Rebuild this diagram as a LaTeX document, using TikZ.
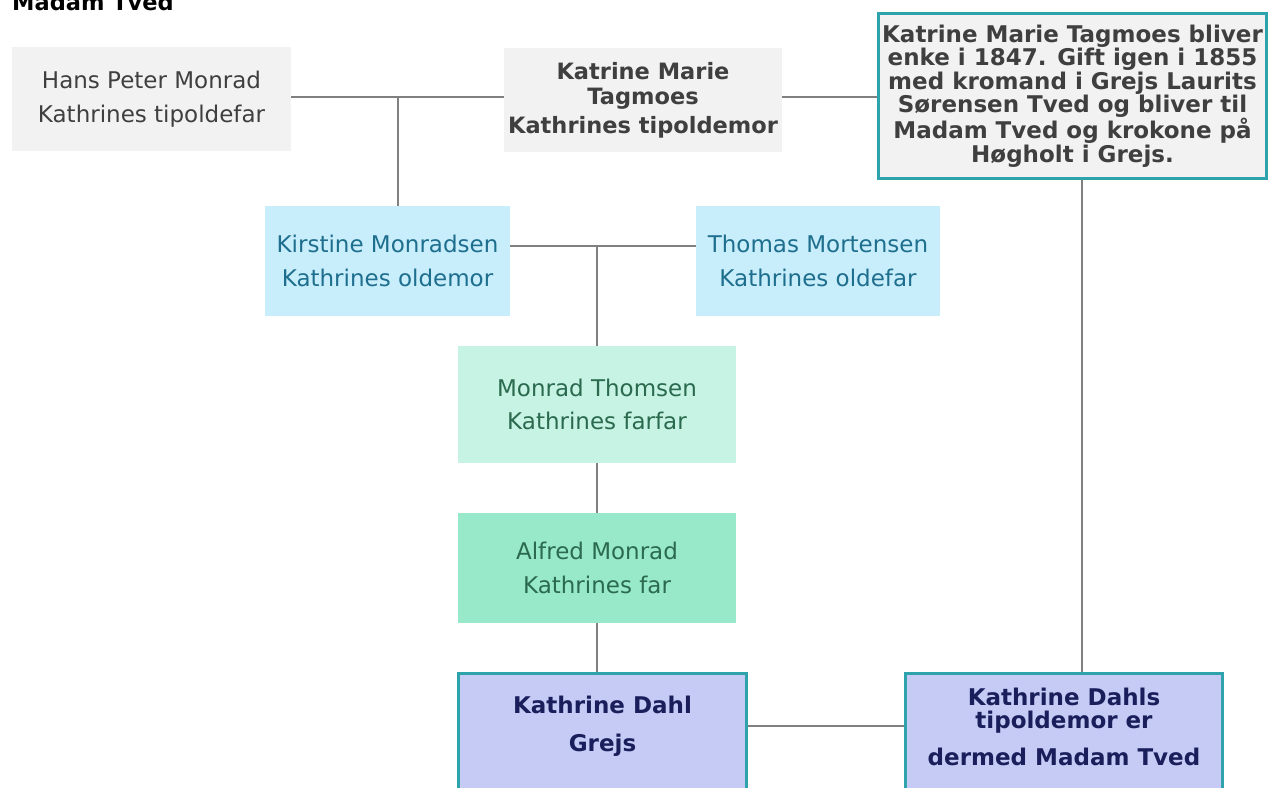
\documentclass[tikz,border=0pt]{standalone}
\usepackage{fontspec}
\setmainfont{DejaVu Sans}
\definecolor{grayfill}{HTML}{F2F2F2}
\definecolor{graytext}{HTML}{3F3F3F}
\definecolor{bluefill}{HTML}{C8EEFB}
\definecolor{bluetext}{HTML}{1E6E8E}
\definecolor{mintfill}{HTML}{C6F3E3}
\definecolor{greenfill}{HTML}{98E9C9}
\definecolor{greentext}{HTML}{2B6A4E}
\definecolor{lavfill}{HTML}{C5CBF5}
\definecolor{navytext}{HTML}{1A1F5C}
\definecolor{tealborder}{HTML}{2FA3AC}
\definecolor{linecol}{HTML}{808080}
\tikzset{
  pbox/.style={rectangle, inner sep=0pt, align=center, font=\fontsize{23}{33.5}\selectfont},
  graybox/.style={pbox, fill=grayfill, text=graytext},
  bluebox/.style={pbox, fill=bluefill, text=bluetext, minimum width=245pt, minimum height=110pt},
  mintbox/.style={pbox, fill=mintfill, text=greentext, minimum width=278pt},
  greenbox/.style={pbox, fill=greenfill, text=greentext, minimum width=278pt, minimum height=110pt},
  framebox/.style={rectangle, draw=tealborder, line width=3pt, inner sep=0pt},
  conn/.style={draw=linecol, line width=1.5pt},
}
\begin{document}
\begin{tikzpicture}[x=1pt,y=-1pt]
\useasboundingbox (0,0) rectangle (1271,787);
\clip (0,0) rectangle (1271,787);
\fill[white] (0,0) rectangle (1271,787);

\node[anchor=base west, font=\bfseries\fontsize{22.5}{24}\selectfont, text=black, inner sep=0pt] (title) at (12,10) {Madam Tved};

\node[graybox, minimum width=279pt, minimum height=104pt] (hans) at (151.5,99) {Hans Peter Monrad\\Kathrines tipoldefar};
\node[graybox, minimum width=278pt, minimum height=104pt, font=\bfseries\fontsize{22.5}{25}\selectfont] (kmt) at (643,100) {Katrine Marie\\Tagmoes\\[4pt]Kathrines tipoldemor};
\node[framebox, fill=grayfill, text=graytext, minimum width=388pt, minimum height=165pt, align=center, font=\bfseries\fontsize{23}{23.5}\selectfont] (rb) at (1072.5,96) {Katrine Marie Tagmoes bliver\\enke i 1847. Gift igen i 1855\\med kromand i Grejs Laurits\\Sørensen Tved og bliver til\\Madam Tved og krokone på\\Høgholt i Grejs.};

\node[bluebox] (kirst) at (387.5,261) {Kirstine Monradsen\\Kathrines oldemor};
\node[bluebox, minimum width=244pt] (thom) at (818,261) {Thomas Mortensen\\Kathrines oldefar};

\node[mintbox, minimum height=117pt] (mt) at (597,404.5) {Monrad Thomsen\\Kathrines farfar};
\node[greenbox] (am) at (597,568) {Alfred Monrad\\Kathrines far};

\node[framebox, fill=lavfill, minimum width=288pt, minimum height=170pt, anchor=north] (kd) at (602.5,671.5) {};
\node[align=center, text=navytext, inner sep=0pt, font=\bfseries\fontsize{23}{38}\selectfont] (kdtext) at (602.5,726) {Kathrine Dahl\\Grejs};
\node[framebox, fill=lavfill, minimum width=317pt, minimum height=170pt, anchor=north] (tp) at (1064,671.5) {};
\node[align=center, text=navytext, inner sep=0pt, font=\bfseries\fontsize{23}{23}\selectfont] (tptext) at (1064,727) {Kathrine Dahls\\tipoldemor er\\[14pt]dermed Madam Tved};

\coordinate (c1) at (398,97);
\coordinate (c2) at (1082,180);
\coordinate (c3) at (597,246);

\draw[conn] (hans.east |- c1) -- (kmt.west |- c1);
\draw[conn] (c1) -- (c1 |- kirst.north);
\draw[conn] (kmt.east |- c1) -- (rb.west |- c1);
\draw[conn] (rb.south -| c2) -- (tp.north -| c2);
\draw[conn] (kirst.east |- c3) -- (thom.west |- c3);
\draw[conn] (c3) -- (c3 |- mt.north);
\draw[conn] (mt.south) -- (am.north);
\draw[conn] (am.south) -- (am.south |- kd.north);
\draw[conn] (kdtext -| kd.east) -- (kdtext -| tp.west);
\end{tikzpicture}
\end{document}
